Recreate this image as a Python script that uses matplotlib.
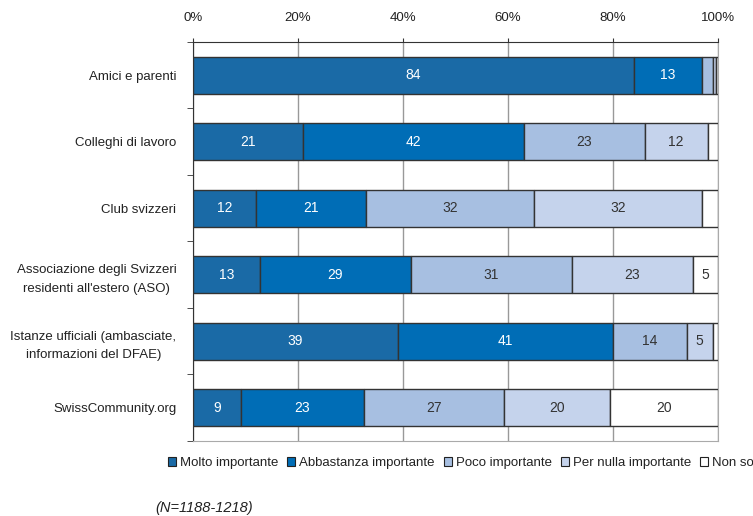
import numpy as np
import matplotlib.pyplot as plt

# categories, top to bottom
categories = ["Amici e parenti", "Colleghi di lavoro", "Club svizzeri",
              "Associazione degli Svizzeri\nresidenti all'estero (ASO)",
              "Istanze ufficiali (ambasciate,\ninformazioni del DFAE)",
              "SwissCommunity.org"]

series_names = ["Molto importante", "Abbastanza importante", "Poco importante",
                "Per nulla importante", "Non so"]

molto = [84, 21, 12, 12.7, 39, 9.2]
abbastanza = [13, 42, 21, 28.8, 41, 23.3]
poco = [2.1, 23, 32, 30.6, 14, 26.8]
per_nulla = [0.6, 12, 32, 23.2, 5, 20.1]
non_so = [0.3, 2, 3, 4.7, 1, 20.6]

# labels as printed on the bars (blank where too small)
lab_molto = ["84", "21", "12", "13", "39", "9"]
lab_abb = ["13", "42", "21", "29", "41", "23"]
lab_poco = ["", "23", "32", "31", "14", "27"]
lab_per = ["", "12", "32", "23", "5", "20"]
lab_non = ["", "", "", "5", "", "20"]

colors = ["#1a6aa6", "#006db6", "#a7bfe1", "#c5d3ec", "#ffffff"]
text_colors = ["white", "white", "#333333", "#333333", "#333333"]

fig = plt.figure(figsize=(7.53, 5.16), dpi=100)
ax = fig.add_axes([193/753, 1-441/516, 525/753, 399/516])

y = np.arange(len(categories))
left = np.zeros(len(categories))
all_vals = [molto, abbastanza, poco, per_nulla, non_so]
all_labs = [lab_molto, lab_abb, lab_poco, lab_per, lab_non]
for vals, labs, col, tc, name in zip(all_vals, all_labs, colors, text_colors, series_names):
    vals = np.array(vals) / 100
    bars = ax.barh(y, vals, left=left, height=0.55, color=col, edgecolor="#333333",
                   linewidth=1.0, label=name, zorder=3)
    ax.bar_label(bars, labels=labs, label_type="center", color=tc, fontsize=10,
                 fontfamily="Liberation Sans")
    left += vals

ax.set_xlim(0, 1)
ax.set_ylim(len(categories) - 0.5, -0.5)
ax.xaxis.tick_top()
ax.set_xticks(np.arange(0, 1.01, 0.2))
ax.set_xticklabels([f"{int(v*100)}%" for v in np.arange(0, 1.01, 0.2)],
                   fontfamily="Liberation Sans", fontsize=9.5, color="#222222")
ax.tick_params(axis="x", length=3, color="#333333", pad=10)

ax.set_yticks(y)
ax.set_yticklabels(categories, fontfamily="Liberation Sans", fontsize=9.5,
                   color="#222222", linespacing=1.75, multialignment="center")
ax.set_yticks(np.arange(-0.5, len(categories)), minor=True)
ax.tick_params(axis="y", which="major", length=0, pad=12)
ax.tick_params(axis="y", which="minor", length=4, color="#333333")

ax.grid(axis="x", color="#999999", linewidth=1, zorder=0)
ax.spines["top"].set_color("#333333")
ax.spines["left"].set_color("#333333")
ax.spines["bottom"].set_color("#aaaaaa")
ax.spines["right"].set_color("#aaaaaa")

leg = fig.legend(loc="center", bbox_to_anchor=(461/753, 1-463/516), ncol=5, frameon=False,
                 prop={"family": "Liberation Sans", "size": 9.5}, handlelength=0.6,
                 handleheight=0.6, handletextpad=0.3, columnspacing=0.7)
for t in leg.get_texts():
    t.set_color("#222222")
for h in leg.legend_handles:
    h.set_edgecolor("#222222")
    h.set_linewidth(0.8)

fig.text(155/753, 1-508/516, "(N=1188-1218)", fontstyle="italic",
         fontfamily="Liberation Sans", fontsize=10.5, color="#222222", va="center")

fig.savefig("out.png", dpi=100)
